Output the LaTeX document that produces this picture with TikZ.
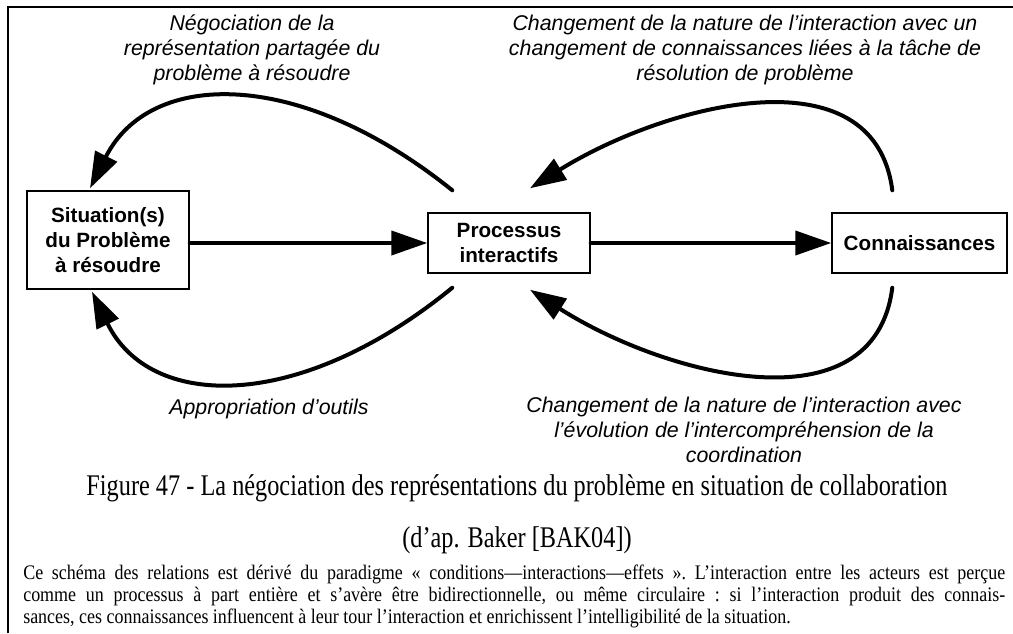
\documentclass[tikz,border=0pt]{standalone}
\usepackage{fontspec}
\setmainfont{Liberation Serif}
\newfontfamily\arialfont{Liberation Sans}
\newfontfamily\capfont[FakeStretch=0.81]{Liberation Serif}
\newfontfamily\notefont[FakeStretch=0.87]{Liberation Serif}
\usetikzlibrary{arrows.meta,calc}
\tikzset{
  box/.style={draw, line width=1.1pt, align=center, inner sep=0pt,
              minimum width=#1, font=\arialfont\bfseries\fontsize{15.5}{18.75}\selectfont},
  flow/.style={-{Triangle[length=27pt,width=18pt]}, line width=3pt, line cap=round},
  lbl/.style={font=\arialfont\itshape\fontsize{16}{18.75}\selectfont,
              align=center, inner sep=0pt, anchor=north},
  capt/.style={font=\capfont\fontsize{22.5}{26}\selectfont, inner sep=0pt, anchor=base},
  para/.style={font=\notefont\fontsize{15.5}{16.5}\selectfont\frenchspacing, text width=736.5pt,
               align=justify, inner sep=0pt, anchor=north west},
  frame/.style={line width=1.5pt}
}

\begin{document}
\begin{tikzpicture}[x=0.75pt, y=-0.75pt]
  \useasboundingbox (0,0) rectangle (1013,633);
  \draw[frame] (8,633) |- (1013,7);
  \node[box=121.5pt, minimum height=73.5pt] (sit) at (108,240) {Situation(s)\\du Problème\\à résoudre};
  \node[box=121.5pt, minimum height=45pt] (proc) at (509,243) {Processus\\interactifs};
  \node[box=131.25pt, minimum height=45pt] (conn) at (919.5,243) {Connaissances};
  \draw[flow] (sit.east |- proc.west) -- (proc.west);
  \draw[flow] (proc) -- (conn);
  \draw[flow] ($(proc.north west)+(25,-22)$) .. controls +(-153,-123) and +(60,-119) .. ($(sit.north)+(-18,-2)$);
  \draw[flow] ($(proc.south west)+(25,14)$) .. controls +(-153,125) and +(58,119) .. ($(sit.south)+(-16,2)$);
  \draw[flow] ($(conn.north west)+(61,-22)$) .. controls +(-18,-141) and +(135,-84) .. ($(proc.north)+(21,-24)$);
  \draw[flow] ($(conn.south west)+(61,14)$) .. controls +(-18,143) and +(135,86) .. ($(proc.south)+(21,16)$);
  \node[lbl] (negot) at (252,15) {Négociation de la\\représentation partagée du\\problème à résoudre};
  \node[lbl] (chgtop) at (745,15) {Changement de la nature de l’interaction avec un\\changement de connaissances liées à la tâche de\\résolution de problème};
  \node[lbl] (approp) at (269,399) {Appropriation d’outils};
  \node[lbl] (chgbot) at (744,397) {Changement de la nature de l’interaction avec\\l’évolution de l’intercompréhension de la\\coordination};
  \node[capt] (fig) at (517,495) {Figure 47 - La négociation des représentations du problème en situation de collaboration};
  \node[capt] (src) at (517,547) {(d’ap. Baker [BAK04])};
  \node[para] (note) at (23,565) {Ce schéma des relations est dérivé du paradigme «~conditions—interactions—effets~». L’interaction entre les acteurs est perçue\linebreak comme un processus à part entière et s’avère être bidirectionnelle, ou même circulaire~: si l’interaction produit des connais-\linebreak sances, ces connaissances influencent à leur tour l’interaction et enrichissent l’intelligibilité de la situation.};
\end{tikzpicture}
\end{document}
